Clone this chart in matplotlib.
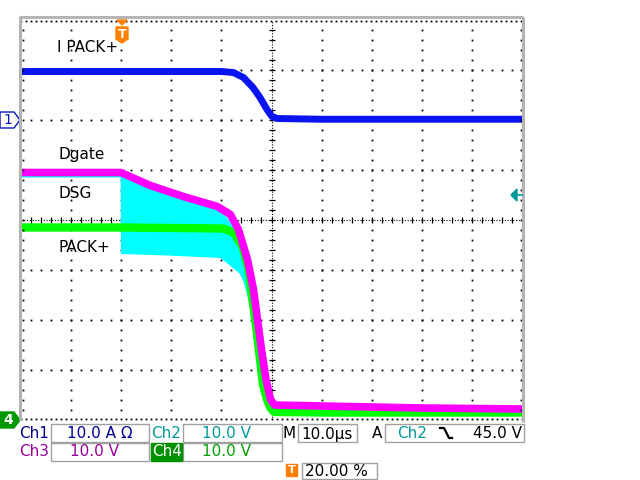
import numpy as np
import matplotlib
matplotlib.use("Agg")
import matplotlib.pyplot as plt
from matplotlib.patches import Polygon, Rectangle

# ---- waveform data (time in us, trigger at 0) ----
t_ipack = [-20, 0, 20, 22.4, 24.4, 26.3, 27.7, 29.1, 30.1, 31.1, 40, 80]
ipack = [9.7, 9.7, 9.7, 9.5, 8.5, 6.5, 4.5, 2.1, 0.7, 0.3, 0.15, 0.15]      # A

t_dgate = [-20, 0, 0.4, 5.8, 12.4, 19.2, 21.8, 23.4, 25.2, 26.4, 27.2, 28.0,
           28.9, 29.8, 30.6, 40, 60, 80]
dgate = [49.5, 49.5, 49.3, 46.9, 44.7, 42.7, 41.1, 38.1, 32.1, 26.1, 20.1, 14.1,
         8.1, 4.1, 3.0, 2.8, 2.4, 2.2]                                        # V

t_pack = [-20, 0, 20.4, 22.4, 24.2, 25.4, 26.2, 27.0, 27.7, 28.3, 29.1, 29.8, 30.5, 40, 80]
pack = [38.5, 38.5, 38.3, 37.5, 34.7, 30.2, 24.1, 18.1, 12.1, 7.1, 4.1, 2.4, 1.6, 1.5, 1.5]

t_dsg = [-20, 0, 0.05, 9.2, 15.8, 19.8, 21.8, 23.7, 24.4, 25.0, 25.6, 26.4,
         27.0, 27.6, 28.4, 29.0, 29.7, 40, 80]
dsg_low = [48.8, 48.8, 33.5, 33.2, 32.9, 32.7, 31.1, 29.5, 28.1, 26.1, 23.5, 20.1,
           15.5, 9.5, 5.5, 2.7, 1.7, 2.0, 2.0]
dsg_high = [49.5, 49.5, 49.0, 46.0, 44.0, 42.0, 39.0, 37.0, 35.5, 33.5, 31.0, 27.0,
            22.0, 15.0, 9.0, 5.0, 3.0, 2.6, 2.6]

volts_per_div = 10.0
amps_per_div = 10.0
ch1_offset = 6.0   # divisions

fig = plt.figure(figsize=(6.4, 4.8), dpi=100)
fig.patch.set_facecolor("white")

# screen area in pixels: x 21..522, y 20..420
ax = fig.add_axes([21 / 640, 1 - 420 / 480, 501 / 640, 400 / 480])
ax.set_xlim(-20, 80)
ax.set_ylim(0, 8)
ax.axis("off")

def div(v, scale, off=0.0):
    return np.asarray(v) / scale + off

# graticule dots
dot = dict(marker="s", markersize=1.3, mew=0, color="black", linestyle="none", zorder=1)
ys = np.arange(0.2, 8.0, 0.2)
for gx in [-10, 0, 10, 20, 40, 50, 60, 70]:
    ax.plot(np.full_like(ys, gx), ys, **dot)
xs = np.arange(-18, 80, 2)
for gy in [1, 2, 3, 5, 6, 7]:
    ax.plot(xs, np.full_like(xs, gy, dtype=float), **dot)
# centre cross
ax.plot([30, 30], [0, 8], color="black", lw=0.8, ls=(0, (1, 1.5)), zorder=1)
ax.plot([-20, 80], [4, 4], color="black", lw=0.8, ls=(0, (1, 1.5)), zorder=1)
ax.plot(np.full_like(ys, 30), ys, marker="_", markersize=4, mew=0.9, color="black", ls="none", zorder=1)
ax.plot(xs, np.full_like(xs, 4, dtype=float), marker="|", markersize=4, mew=0.9, color="black", ls="none", zorder=1)
# bottom edge dots
xb = np.arange(-20, 80.1, 1)
ax.plot(xb, np.full_like(xb, 0.02), **dot)

# waveforms
ax.fill_between(t_dsg, div(dsg_low, volts_per_div), div(dsg_high, volts_per_div),
                color="#00ffff", lw=1.5, edgecolor="#00ffff", zorder=2)
ax.plot(t_pack, div(pack, volts_per_div), color="#00ff00", lw=6, zorder=3,
        solid_joinstyle="round")
ax.plot(t_dgate, div(dgate, volts_per_div), color="#ff00ff", lw=5.5, zorder=4,
        solid_joinstyle="round")
ax.plot(t_ipack, div(ipack, amps_per_div, ch1_offset), color="#0a14f0", lw=5, zorder=5,
        solid_joinstyle="round")

# ---- overlay in pixel coordinates ----
ov = fig.add_axes([0, 0, 1, 1], zorder=5)
ov.set_xlim(0, 640)
ov.set_ylim(480, 0)
ov.axis("off")
ov.patch.set_alpha(0)

gray = "#b4b4b4"
ov.plot([20, 20], [17, 420], color=gray, lw=2.2, solid_capstyle="butt")
ov.plot([19, 523], [17, 17], color=gray, lw=2.2, solid_capstyle="butt")
ov.plot([523, 523], [17, 422], color=gray, lw=2.2, solid_capstyle="butt")
# border ticks
tx = np.arange(21, 522, 5)
ov.plot(tx, np.full_like(tx, 20.5, dtype=float), **dot)
ty = np.arange(30, 420, 10)
ov.plot(np.full_like(ty, 22.5, dtype=float), ty, **dot)
ov.plot(np.full_like(ty, 520.5, dtype=float), ty, **dot)

font = dict(family="DejaVu Sans", fontsize=11)
ov.text(57, 48, "I PACK+", color="black", va="center", ha="left", **font)
ov.text(58, 155, "Dgate", color="black", va="center", ha="left", **font)
ov.text(58, 193, "DSG", color="black", va="center", ha="left", **font)
ov.text(58, 248, "PACK+", color="black", va="center", ha="left", **font)

# channel markers
ov.add_patch(Polygon([(0, 112), (14, 112), (20, 120), (14, 128), (0, 128)], closed=True,
                     facecolor="white", edgecolor="#0a14c8", lw=1.0))
ov.text(8, 120.5, "1", color="#0a14c8", ha="center", va="center", fontsize=10)
ov.add_patch(Polygon([(0, 412), (14, 412), (20, 420), (14, 428), (0, 428)], closed=True,
                     facecolor="#009a00", edgecolor="#009a00", lw=1.0))
ov.text(8, 420.5, "4", color="white", ha="center", va="center", fontsize=10, fontweight="bold")

# trigger level marker
ov.add_patch(Polygon([(511, 195), (517, 189), (517, 201)], closed=True,
                     facecolor="#009999", edgecolor="#009999"))
ov.plot([517, 522], [195, 195], color="#009999", lw=1.2)

# trigger position marker
orange = "#ff7f00"
ov.add_patch(Polygon([(117, 20), (127, 20), (122, 25)], closed=True, facecolor=orange, edgecolor=orange))
ov.add_patch(Polygon([(116, 27), (128, 27), (128, 39), (122, 43), (116, 39)], closed=True,
                     facecolor=orange, edgecolor=orange))
ov.text(122, 34, "T", color="white", ha="center", va="center", fontsize=9, fontweight="bold")

# readout boxes
box_ec = "#a0a0a0"
def box(x0, y0, x1, y1):
    ov.add_patch(Rectangle((x0, y0), x1 - x0, y1 - y0, facecolor="white", edgecolor=box_ec, lw=1.0))

box(51, 424, 149, 442)
box(183, 424, 282, 442)
box(51, 443, 149, 461)
box(183, 443, 282, 461)
box(298, 424, 357, 442)
box(385, 424, 524, 442)
box(302, 463, 377, 479)

dblue = "#000090"
teal = "#009a9a"
purple = "#990099"
green = "#00a000"
ov.text(19, 434, "Ch1", color=dblue, va="center", ha="left", **font)
ov.text(100, 434, "10.0 A \u03a9", color=dblue, va="center", ha="center", **font)
ov.text(151, 434, "Ch2", color=teal, va="center", ha="left", **font)
ov.text(227, 434, "10.0 V", color=teal, va="center", ha="center", **font)
ov.text(19, 452, "Ch3", color=purple, va="center", ha="left", **font)
ov.text(95, 452, "10.0 V", color=purple, va="center", ha="center", **font)
ov.add_patch(Rectangle((151, 443), 31, 18, facecolor="#009000", edgecolor="#009000"))
ov.text(152, 452, "Ch4", color="white", va="center", ha="left", **font)
ov.text(227, 452, "10.0 V", color=green, va="center", ha="center", **font)
ov.text(283, 434, "M", color="black", va="center", ha="left", **font)
ov.text(327, 434, "10.0\u00b5s", color="black", va="center", ha="center", **font)
ov.text(372, 434, "A", color="black", va="center", ha="left", **font)
ov.text(397, 434, "Ch2", color=teal, va="center", ha="left", **font)
ov.plot([440, 444, 449, 452], [428, 428, 438, 438], color="black", lw=1.6)
ov.text(522, 434, "45.0 V", color="black", va="center", ha="right", **font)
ov.add_patch(Rectangle((286, 464), 11, 12, facecolor=orange, edgecolor=orange))
ov.text(291.5, 470, "T", color="white", ha="center", va="center", fontsize=8, fontweight="bold")
ov.text(305, 471, "20.00 %", color="black", va="center", ha="left", **font)

fig.savefig("out.png", dpi=100)
